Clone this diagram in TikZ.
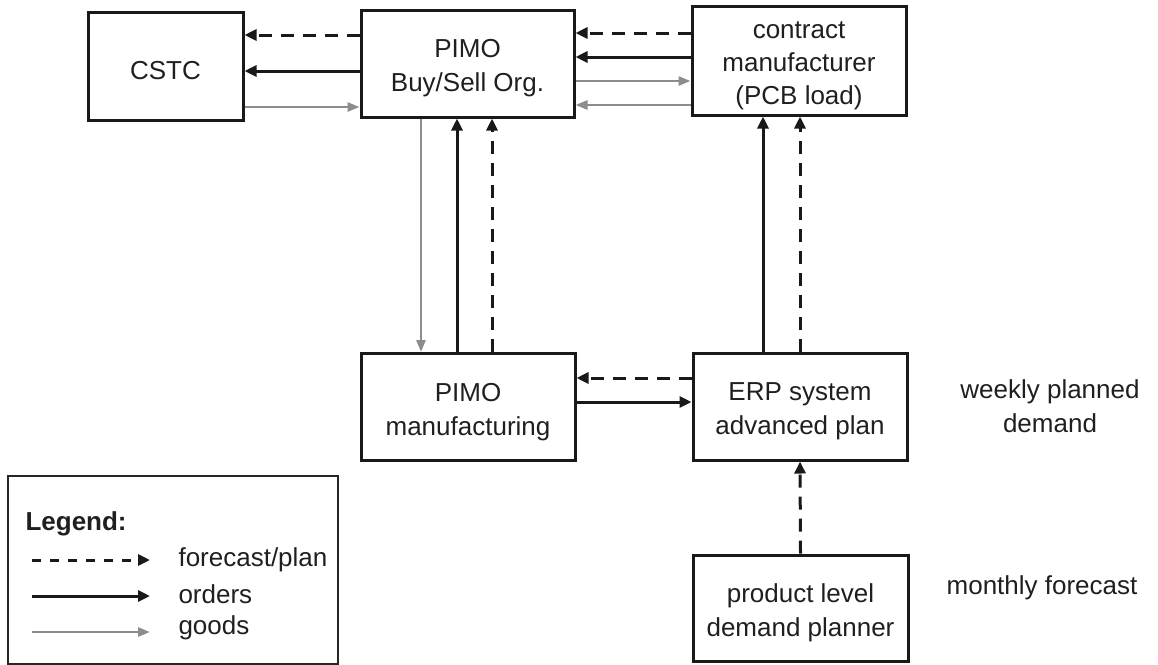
\documentclass[tikz,border=0pt]{standalone}
\usepackage{fontspec}
\setmainfont{Liberation Sans}
\usetikzlibrary{arrows.meta}
\begin{document}
\begin{tikzpicture}[x=1pt,y=-1pt,
  txt/.style={font=\fontsize{26}{34}\selectfont, align=center, text=black!88},
  boxtext/.style={txt, yshift=-5pt},
  box/.style={draw=black!90, line width=3pt, inner sep=0pt},
  tip/.style={-{Triangle[length=12pt,width=11pt]}},
  fcline/.style={tip, draw=black!90, line width=3pt, dash pattern=on 13pt off 9pt},
  ordline/.style={tip, draw=black!90, line width=3pt},
  goodsline/.style={-{Triangle[length=12pt,width=9pt]}, draw=black!45, line width=2.6pt}]
\useasboundingbox (0,0) rectangle (1158,664);

% boxes: centre, width, height
\node[box, minimum width=155pt, minimum height=108pt] (cstc) at (165.5,66) {};
\node[box, minimum width=213pt, minimum height=107pt] (bs) at (467.5,63.5) {};
\node[box, minimum width=214pt, minimum height=109pt] (cm) at (799,60.5) {};
\node[box, minimum width=214pt, minimum height=107pt] (mfg) at (468,407) {};
\node[box, minimum width=214pt, minimum height=107pt] (erp) at (800,406.5) {};
\node[box, minimum width=215pt, minimum height=106pt] (dp) at (800.5,608) {};

% box labels
\node[boxtext] (cstc-t) at (cstc.center) {CSTC};
\node[boxtext] (bs-t) at (bs.center) {PIMO\\Buy/Sell Org.};
\node[boxtext, font=\fontsize{26}{33}\selectfont] (cm-t) at (cm.center) {contract\\manufacturer\\(PCB load)};
\node[boxtext] (mfg-t) at (mfg.center) {PIMO\\manufacturing};
\node[boxtext] (erp-t) at (erp.center) {ERP system\\advanced plan};
\node[boxtext] (dp-t) at (dp.center) {product level\\demand planner};

% side labels
\node[txt] (wk) at (1050,406) {weekly planned\\demand};
\node[txt] (mo) at (1042,588) {monthly forecast};

% PIMO Buy/Sell <-> CSTC
\draw[fcline] (bs.west |- 0,35) -- (cstc.east |- 0,35);
\draw[ordline] (bs.west |- 0,71) -- (cstc.east |- 0,71);
\draw[goodsline] (cstc.east |- 0,107) -- (bs.west |- 0,107);

% contract manufacturer <-> PIMO Buy/Sell
\draw[fcline] (cm.west |- 0,33) -- (bs.east |- 0,33);
\draw[ordline] (cm.west |- 0,57) -- (bs.east |- 0,57);
\draw[goodsline] (bs.east |- 0,81) -- (cm.west |- 0,81);
\draw[goodsline] (cm.west |- 0,105) -- (bs.east |- 0,105);

% PIMO Buy/Sell <-> PIMO manufacturing
\draw[goodsline] (bs.south -| 421,0) -- (mfg.north -| 421,0);
\draw[ordline] (mfg.north -| 457,0) -- (bs.south -| 457,0);
\draw[fcline] (mfg.north -| 492,0) -- (bs.south -| 492,0);

% ERP -> contract manufacturer
\draw[ordline] (erp.north -| 763,0) -- (cm.south -| 763,0);
\draw[fcline] (erp.north -| 800,0) -- (cm.south -| 800,0);

% ERP <-> PIMO manufacturing
\draw[fcline] (erp.west |- 0,378) -- (mfg.east |- 0,378);
\draw[ordline] (mfg.east |- 0,402) -- (erp.west |- 0,402);

% demand planner -> ERP
\draw[fcline] (dp.north) -- (erp.south);

% legend
\node[draw=black!85, line width=2pt, minimum width=330pt, minimum height=188pt, inner sep=0pt] (lg) at (173,570) {};
\node[txt, font=\fontsize{26}{34}\selectfont\bfseries, anchor=west] (lgt) at (22,524) {Legend:};
\coordinate (a1) at (32,560); \coordinate (b1) at (150,560);
\coordinate (a2) at (32,596); \coordinate (b2) at (150,596);
\coordinate (a3) at (32,632); \coordinate (b3) at (150,632);
\draw[fcline, dash pattern=on 9pt off 9pt] (a1) -- (b1);
\draw[ordline] (a2) -- (b2);
\draw[goodsline] (a3) -- (b3);
\node[txt, anchor=west] (l1) at (175,560) {forecast/plan};
\node[txt, anchor=west] (l2) at (175,594) {orders};
\node[txt, anchor=west] (l3) at (175,628) {goods};
\end{tikzpicture}
\end{document}
